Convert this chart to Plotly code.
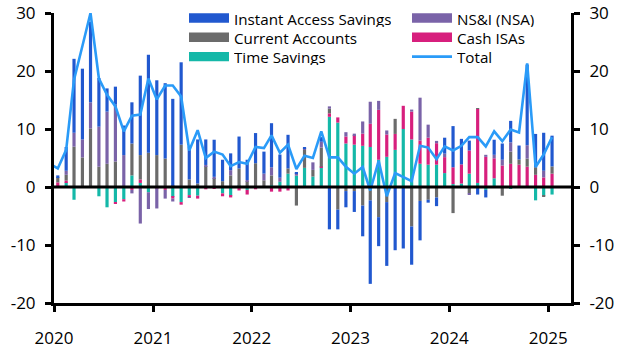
import plotly.graph_objects as go
import pandas as pd

# ---- data (monthly, Jan 2020 - Jan 2025), £bn ----
months = pd.date_range("2020-01-01", "2025-01-01", freq="MS") + pd.Timedelta(days=14)
total_dates = [pd.Timestamp("2019-12-15")] + list(months)

time_savings = [0, 0.8, -2.2, 0.1, 0, -1.6, -3.5, -2.6, -2.1, 2.0, 0.7, -0.9,
                0, 0, -1.7, -2.6, -1.4, -1.5, 0, 0, -1.1, -1.5, 0.2, -0.5,
                0, 0, 0.3, 0.9, 2.3, 1.95, 3.3, 1.8, 3.4, 12.1, 11.1, 7.5,
                7.3, 7.1, 6.9, 4.7, 5.2, 6.4, 10.0, 8.2, 4.0, 3.85, 3.85, 2.4,
                0.5, 0.6, 2.3, 0.7, -0.5, 1.5, 0, -0.3, 0, 0, -2.3, -1.5,
                -1.3]

cash_isas = [0.8, 0.3, 0, 0, 0.1, 0.1, 0, -0.2, -0.4, -0.5, 0.6, 0,
             -0.2, -0.5, -0.3, -0.45, -0.35, -0.5, -0.4, -0.3, -0.5, -0.3, -0.6, -0.8,
             -0.4, 0, -0.8, -0.8, -0.6, 0, 0, 0, 0.1, 0.6, 0.9, 1.2,
             1.65, 2.1, 4.0, 8.6, 3.85, 2.75, 4.0, 4.8, 4.0, 4.65, 3.7, 2.75,
             2.9, 3.3, 4.0, 12.75, 5.2, 3.45, 3.7, 4.0, 3.85, 3.5, 2.1, 1.65,
             2.3]

current_accounts = [0.9, 1.0, 6.95, 5.0, 10.0, 3.4, 4.0, 4.4, 0, 5.5, 4.2, 5.9,
                    5.5, 4.9, 0.2, 7.3, 1.3, 0.6, 3.6, 1.55, 1.0, 2.0, 3.0, 1.0,
                    4.1, 1.15, 1.7, 0, 0.9, -3.2, 3.1, 1.15, 3.3, 0.8, -3.9, -0.7,
                    -0.7, -3.2, -2.3, -5.2, -2.6, 2.6, 0, -6.8, -2.4, -2.2, -1.8, 0,
                    -4.5, 0, -1.1, 0.1, 0, 0, -1.5, 2.1, 0.9, 1.4, 1.3, -0.2,
                    1.25]

nsi = [0, 0.7, 2.4, 3.1, 4.5, 6.9, 9.0, 9.8, 5.5, -0.6, -6.3, -2.9,
       -3.5, -1.5, -0.5, 0, -0.1, 0, 0.2, 0.2, 0, 0.9, 0, 0.2,
       0, 1.15, 1.4, 0.7, 0, 0.45, 0.2, 1.3, 1.0, 0.4, 0, 0.75,
       0.25, 2.1, 3.8, 1.55, 0.7, 0, 0, 0.35, 7.4, 2.25, 0.4, 0.6,
       0, 0, -0.2, 0, 0.35, 0.6, 1.0, 1.6, 0, 2.3, 0, 1.15,
       0]

instant_access = [0.3, 4.1, 12.75, 12.2, 13.9, 8.4, 4.0, 3.1, 5.1, 7.1, 13.7, 16.9,
                  12.9, 13.0, 15.0, 14.2, 5.7, 7.6, 4.4, 6.4, 3.7, 2.9, 5.5, 3.5,
                  5.2, 3.8, 7.6, 4.0, 5.8, 0.1, 0.2, 0, 0.8, -7.3, -3.4, -2.8,
                  -3.6, -5.3, -14.4, -5.0, -11.0, -10.9, -10.6, -6.6, -6.8, -0.5, -1.5, 2.75,
                  7.1, 4.4, 1.7, -1.3, -1.3, 2.6, 2.8, 3.7, 2.4, 13.9, 5.75, 6.55,
                  5.3]

total = [4.0,
         3.2, 6.4, 18.5, 24.3, 30.0, 18.7, 15.9, 13.9, 9.6, 12.3, 12.5, 18.7,
         15.1, 17.5, 17.5, 15.6, 6.3, 9.8, 5.0, 6.1, 5.6, 3.6, 4.3, 4.0,
         6.9, 6.7, 8.9, 5.9, 7.3, 3.1, 5.4, 5.0, 9.6, 5.1, 5.1, 3.5,
         2.3, 3.45, -0.6, 4.5, -1.6, 2.4, 1.7, 1.0, 7.1, 6.8, 4.8, 7.0,
         6.3, 7.1, 8.6, 8.6, 7.0, 9.6, 7.9, 9.9, 9.4, 21.3, 3.45, 5.6,
         8.6]

y_tickvals = [-20, -10, 0, 10, 20, 30]
y_ticktext = ["-20", "-10", "0", "10", "20", "30"]

# ---- styles ----
C_IA = "#2158CF"
C_CA = "#6B6B6B"
C_TS = "#14B8A8"
C_NSI = "#7A63A8"
C_ISA = "#D71F7D"
C_TOT = "#2A9BF8"
FONT = "Open Sans"

fig = go.Figure()
# stacking order (bottom -> top): Time Savings, Cash ISAs, Current Accounts, NS&I, Instant Access
for name, vals, col in [("Time Savings", time_savings, C_TS),
                        ("Cash ISAs", cash_isas, C_ISA),
                        ("Current Accounts", current_accounts, C_CA),
                        ("NS&I (NSA)", nsi, C_NSI),
                        ("Instant Access Savings", instant_access, C_IA)]:
    fig.add_trace(go.Bar(x=months, y=vals, name=name, marker_color=col,
                         marker_line_width=0, showlegend=False))

fig.add_trace(go.Scatter(x=total_dates, y=total, name="Total", mode="lines",
                         line=dict(color=C_TOT, width=2.6), yaxis="y2",
                         showlegend=False))

# plot-area pixel geometry (for manual legend placement)
W, H = 627, 353
PL, PR, PT, PB = 54, 571, 13, 303


def px_x(px):
    return (px - PL) / (PR - PL)


def px_y(py):
    return (PB - py) / (PB - PT)


axis_common = dict(range=[-20, 30], tickvals=y_tickvals, ticktext=y_ticktext,
                   showgrid=False, zeroline=False, showline=True,
                   linecolor="black", linewidth=3, ticks="outside",
                   ticklen=6, tickwidth=3, tickcolor="black",
                   tickfont=dict(family=FONT, size=17, color="black"),
                   ticklabelstandoff=6)

fig.update_layout(
    width=W, height=H,
    margin=dict(l=PL, r=W - PR, t=PT, b=H - PB, autoexpand=False),
    barmode="relative", bargap=0.58,
    plot_bgcolor="white", paper_bgcolor="white",
    showlegend=False,
    font=dict(family=FONT, color="black"),
    xaxis=dict(type="date", range=["2020-01-01", "2025-03-26"],
               tick0="2020-01-01", dtick="M12", tickformat="%Y",
               showgrid=False, zeroline=False, showline=True,
               linecolor="black", linewidth=3, ticks="outside",
               ticklen=6, tickwidth=3, tickcolor="black",
               tickfont=dict(family=FONT, size=17, color="black"),
               ticklabelstandoff=12),
    yaxis=dict(side="left", **axis_common),
    yaxis2=dict(side="right", overlaying="y", **axis_common),
)

# zero line above bars
fig.add_shape(type="line", xref="paper", yref="y", x0=0, x1=1, y0=0, y1=0,
              line=dict(color="black", width=3), layer="above")

# manual legend (two columns, three rows)
legend_items = [
    ("Instant Access Savings", C_IA, 0, 0, "bar"),
    ("Current Accounts", C_CA, 0, 1, "bar"),
    ("Time Savings", C_TS, 0, 2, "bar"),
    ("NS&I (NSA)", C_NSI, 1, 0, "bar"),
    ("Cash ISAs", C_ISA, 1, 1, "bar"),
    ("Total", C_TOT, 1, 2, "line"),
]
col_x = [189, 412]
row_y = [18, 37.3, 56.6]
sw_w, sw_h = 40, 9.4
for label, colr, c, r, kind in legend_items:
    x0 = col_x[c]
    yc = row_y[r]
    if kind == "bar":
        fig.add_shape(type="rect", xref="paper", yref="paper",
                      x0=px_x(x0), x1=px_x(x0 + sw_w),
                      y0=px_y(yc + sw_h / 2), y1=px_y(yc - sw_h / 2),
                      line_width=0, fillcolor=colr, layer="above")
    else:
        fig.add_shape(type="line", xref="paper", yref="paper",
                      x0=px_x(x0), x1=px_x(x0 + sw_w),
                      y0=px_y(yc), y1=px_y(yc),
                      line=dict(color=colr, width=2.6), layer="above")
    fig.add_annotation(text=label, xref="paper", yref="paper",
                       x=px_x(x0 + sw_w + 4), y=px_y(yc),
                       xanchor="left", yanchor="middle", showarrow=False,
                       height=17, borderpad=0,
                       font=dict(family=FONT, size=15.2, color="black"))

fig.write_html("out.html")
